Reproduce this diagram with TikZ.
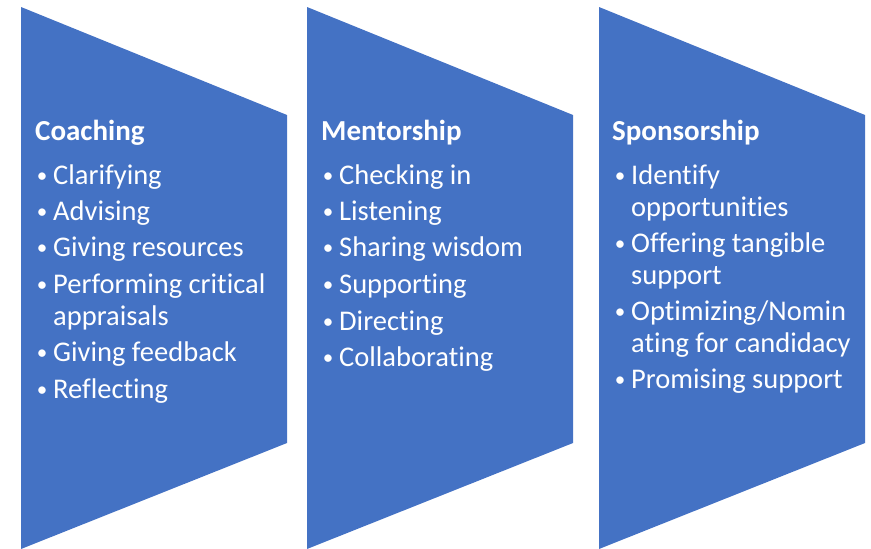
\documentclass[tikz,border=0pt]{standalone}
\usepackage{fontspec}
\setmainfont{Carlito}[Ligatures=CommonOff]
\definecolor{panelblue}{HTML}{4472C4}
\begin{document}
\begin{tikzpicture}[x=1pt,y=-1pt,
  panel/.style={fill=panelblue},
  ttl/.style={inner sep=0pt,anchor=base west,text=white,font=\fontsize{29}{34}\selectfont\bfseries},
  itm/.style={inner sep=0pt,anchor=base west,text=white,font=\fontsize{28.5}{34}\selectfont},
  bul/.style={inner sep=0pt,anchor=base,text=white,font=\fontsize{21}{24}\selectfont}]
\useasboundingbox (0,0) rectangle (871,549);
% panels
\fill[panel] (21,7) -- (287,115) -- (287,443) -- (21,549) -- cycle;
\fill[panel] (307,7) -- (573,115) -- (573,443) -- (307,549) -- cycle;
\fill[panel] (599,7) -- (865,115) -- (865,443) -- (599,549) -- cycle;
% Coaching
\node[ttl] (ct) at (35,140) {Coaching};
\node[bul] (cb1) at (42,182) {•}; \node[itm] (c1) at (53,184) {Clarifying};
\node[bul] (cb2) at (42,218) {•}; \node[itm] (c2) at (53,220) {Advising};
\node[bul] (cb3) at (42,254) {•}; \node[itm] (c3) at (53,256) {Giving resources};
\node[bul] (cb4) at (42,291) {•}; \node[itm] (c4) at (53,293) {Performing critical};
\node[itm] (c4b) at (53,325) {appraisals};
\node[bul] (cb5) at (42,359) {•}; \node[itm] (c5) at (53,361) {Giving feedback};
\node[bul] (cb6) at (42,396) {•}; \node[itm] (c6) at (53,398) {Reflecting};
% Mentorship
\node[ttl] (mt) at (321,140) {Mentorship};
\node[bul] (mb1) at (328,182) {•}; \node[itm] (m1) at (339,184) {Checking in};
\node[bul] (mb2) at (328,218) {•}; \node[itm] (m2) at (339,220) {Listening};
\node[bul] (mb3) at (328,254) {•}; \node[itm] (m3) at (339,256) {Sharing wisdom};
\node[bul] (mb4) at (328,291) {•}; \node[itm] (m4) at (339,293) {Supporting};
\node[bul] (mb5) at (328,328) {•}; \node[itm] (m5) at (339,330) {Directing};
\node[bul] (mb6) at (328,364) {•}; \node[itm] (m6) at (339,366) {Collaborating};
% Sponsorship
\node[ttl] (st) at (612,140) {Sponsorship};
\node[bul] (sb1) at (620,182) {•}; \node[itm] (s1) at (631,184) {Identify};
\node[itm] (s1b) at (631,216) {opportunities};
\node[bul] (sb2) at (620,250) {•}; \node[itm] (s2) at (631,252) {Offering tangible};
\node[itm] (s2b) at (631,284) {support};
\node[bul] (sb3) at (620,318) {•}; \node[itm] (s3) at (631,320) {Optimizing/Nomin};
\node[itm] (s3b) at (631,352) {ating for candidacy};
\node[bul] (sb4) at (620,386) {•}; \node[itm] (s4) at (631,388) {Promising support};
\end{tikzpicture}
\end{document}
